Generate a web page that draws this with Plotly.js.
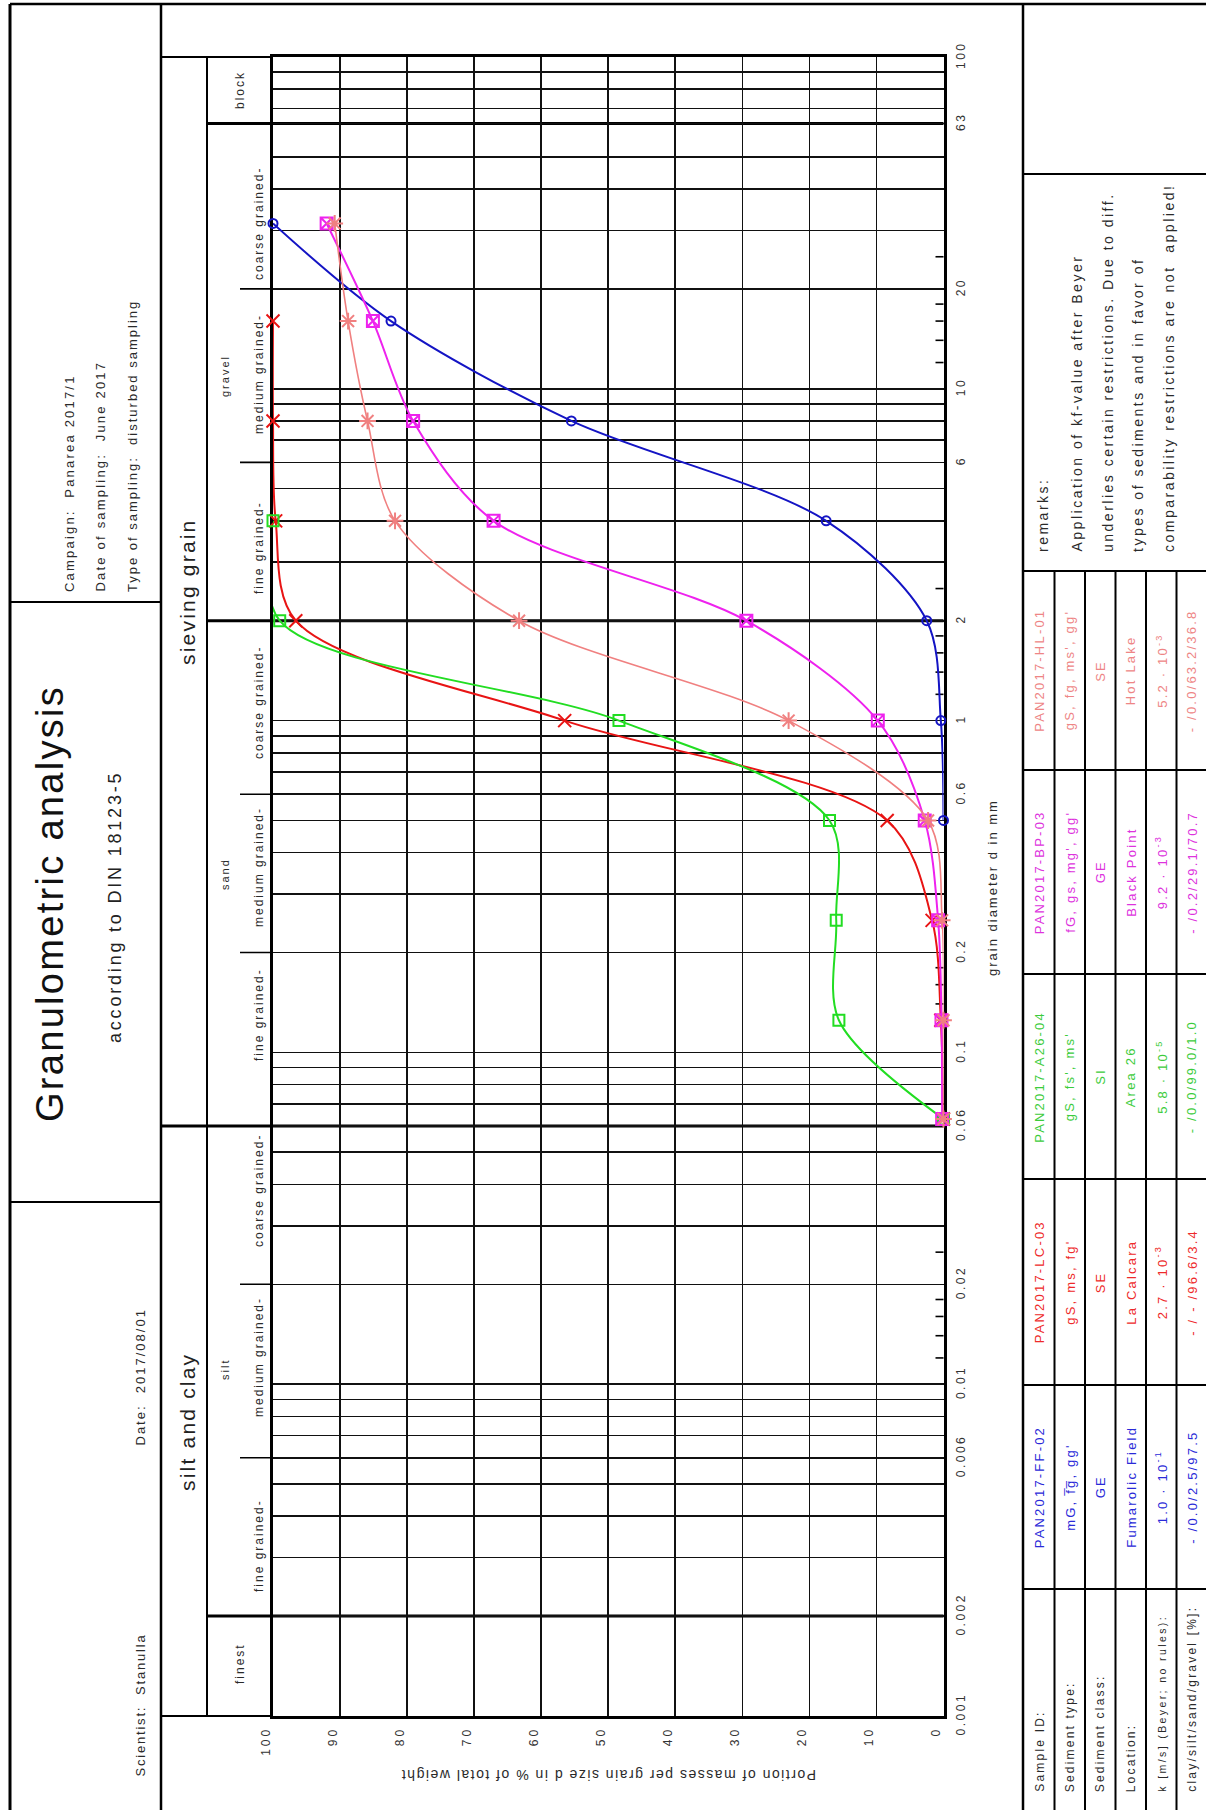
<!DOCTYPE html>
<html>
<head>
<meta charset="utf-8">
<script src="https://cdn.plot.ly/plotly-3.0.1.min.js"></script>
<style>
html,body{margin:0;padding:0;background:#fff;}
#chart{width:1206px;height:1810px;}
.xtick text{letter-spacing:3px;}
.ytick text{letter-spacing:2.5px;}
</style>
</head>
<body>
<div id="chart"></div>
<script>
// ---------------- data ----------------
const sampleIds   = ['PAN2017-FF-02','PAN2017-LC-03','PAN2017-A26-04','PAN2017-BP-03','PAN2017-HL-01'];
const sedTypes    = ["mG, f\u0305g\u0305, gg'", "gS, ms, fg'", "gS, fs', ms'", "fG, gs, mg', gg'", "gS, fg, ms', gg'"];
const sedClasses  = ['GE','SE','SI','GE','SE'];
const locations   = ['Fumarolic Field','La Calcara','Area 26','Black Point','Hot Lake'];
const kValues     = ['1.0 \u00b7 10<sup>-1</sup>','2.7 \u00b7 10<sup>-3</sup>','5.8 \u00b7 10<sup>-5</sup>','9.2 \u00b7 10<sup>-3</sup>','5.2 \u00b7 10<sup>-3</sup>'];
const fractions   = ['- /0.0/2.5/97.5','- / - /96.6/3.4','- /0.0/99.0/1.0','- /0.2/29.1/70.7','- /0.0/63.2/36.8'];
const sampleColors= ['#2a2ad8','#ee2a2a','#3ccc3c','#dd33dd','#ee8585'];
const lineColors  = ['#1414c4','#e81414','#22dd22','#ee22ee','#f08080'];
const markerSymbols = ['circle-open','x-thin-open','square-open','square-x-open','asterisk-open'];
const markerSizes = [9,13,11,12,14];
const lineWidths  = [2,2,2,2,1.6];

const rowLabels = ['Sample ID:','Sediment type:','Sediment class:','Location:','k [m/s] (Beyer; no rules):','clay/silt/sand/gravel [%]:'];

// sieve diameters (mm) and percent passing
const sieveFF  = [31.5, 16, 8, 4, 2, 1, 0.5];
const passFF   = [100, 82.4, 55.5, 17.5, 2.5, 0.4, 0];
const sieveLC  = [16, 8, 4, 2, 1, 0.5, 0.25, 0.125, 0.063];
const passLC   = [100, 100, 99.6, 96.6, 56.5, 8.4, 1.7, 0.4, 0];
const sieveA26 = [4, 2, 1, 0.5, 0.25, 0.125, 0.063];
const passA26  = [100, 99.0, 48.4, 17.0, 16.0, 15.6, 0];
const sieveBP  = [31.5, 16, 8, 4, 2, 1, 0.5, 0.25, 0.125, 0.063];
const passBP   = [92.0, 85.1, 79.1, 67.1, 29.4, 9.8, 2.8, 0.8, 0.3, 0.2];
const sieveHL  = [31.5, 16, 8, 4, 2, 1, 0.5, 0.25, 0.125, 0.063];
const passHL   = [90.8, 88.8, 85.9, 81.8, 63.3, 23.1, 2.3, 0.2, 0, 0];

const pctTicks    = [0,10,20,30,40,50,60,70,80,90,100];
const diamTicks   = [0.001,0.002,0.006,0.01,0.02,0.06,0.1,0.2,0.6,1,2,6,10,20,63,100];
const diamLabels  = ['0.001','0.002','0.006','0.01','0.02','0.06','0.1','0.2','0.6','1','2','6','10','20','63','100'];
const diamMinor   = [0.003,0.004,0.005,0.007,0.008,0.009,0.03,0.04,0.05,0.07,0.08,0.09,
                     0.3,0.4,0.5,0.7,0.8,0.9,3,4,5,7,8,9,30,40,50,70,80,90];
const sieveMarks  = [0.012,0.014,0.016,0.018,0.025,0.12,0.14,0.16,0.18,0.25,1.2,1.4,1.6,1.8,2.5,12,14,16,18,25];
const mainBounds  = [63, 2, 0.06, 0.002];
const subBounds   = [20, 6, 0.6, 0.2, 0.02, 0.006];

const groupLabels = ['gravel','sand','silt'];
const subLabels   = ['coarse grained-','medium grained-','fine grained-','coarse grained-','medium grained-','fine grained-','coarse grained-','medium grained-','fine grained-'];
const remarks     = ['remarks:','Application of kf-value after Beyer','underlies certain restrictions. Due to diff.','types of sediments and in favor of','comparability restrictions are not\u00a0 applied!'];

// ---------------- geometry (page pixels) ----------------
const W = 1206, H = 1810;
const X0 = 273, X1 = 943.5, Y0 = 57, Y1 = 1716;
const px = x => x / W;
const py = y => 1 - y / H;
const FONT = 'Liberation Sans, Arial, Helvetica, sans-serif';

function txt(text, x, y, o) {
  o = o || {};
  const t = o.ls ? '<span style="letter-spacing:' + o.ls + 'px">' + text + '</span>' : text;
  return {
    text: t, x: px(x), y: py(y), xref: 'paper', yref: 'paper',
    textangle: (o.angle === undefined ? -90 : o.angle), showarrow: false,
    xanchor: o.xa || 'center', yanchor: o.ya || 'middle', borderpad: 0,
    font: {family: FONT, size: o.size || 13, color: o.color || '#2a2a2a'}
  };
}
function seg(x0, y0, x1, y1, w) {
  return {type: 'line', xref: 'paper', yref: 'paper', x0: px(x0), y0: py(y0), x1: px(x1), y1: py(y1),
          line: {color: '#000', width: w || 2}, layer: 'above'};
}
function yseg(val, x0, x1, w) {
  return {type: 'line', xref: 'paper', yref: 'y', x0: px(x0), x1: px(x1), y0: val, y1: val,
          line: {color: '#000', width: w || 2}, layer: 'below'};
}

// ---------------- traces ----------------
const sieves = [sieveFF, sieveLC, sieveA26, sieveBP, sieveHL];
const passes = [passFF, passLC, passA26, passBP, passHL];
const traces = sieves.map((s, i) => ({
  type: 'scatter', mode: 'lines+markers', x: passes[i], y: s, name: sampleIds[i],
  line: {color: lineColors[i], width: lineWidths[i], shape: 'spline', smoothing: 0.9},
  marker: {symbol: markerSymbols[i], size: markerSizes[i], color: lineColors[i], line: {color: lineColors[i], width: 2}},
  cliponaxis: false, hoverinfo: 'skip'
}));

// ---------------- shapes ----------------
const shapes = [];
shapes.push(seg(10, 4, 1206, 4, 2.5));
shapes.push(seg(10, 4, 10, 1810, 3));
shapes.push(seg(161, 4, 161, 1810, 2.5));
shapes.push(seg(1023, 4, 1023, 1810, 2.5));
shapes.push(seg(10, 602, 161, 602, 2));
shapes.push(seg(10, 1202, 161, 1202, 2));
shapes.push(seg(161, Y0, X0, Y0, 2));
shapes.push(seg(207, Y0, 207, Y1, 2));
shapes.push(seg(161, Y1, X0, Y1, 2));
mainBounds.forEach(v => shapes.push(yseg(v, v === 0.06 ? 161 : 207, X1, 3)));
subBounds.forEach(v => shapes.push(yseg(v, 240, X0, 1.6)));
sieveMarks.forEach(v => shapes.push(yseg(v, X1 - 8, X1, 1.6)));
const tableRows = [1024, 1054.5, 1085, 1115.5, 1146, 1176.5];
const bandEdges = [1589, 1385, 1179, 974, 770, 571];
shapes.push(seg(1023, 174, 1206, 174, 2));
bandEdges.forEach(y => shapes.push(seg(1023, y, 1206, y, 2)));
tableRows.slice(1).forEach(x => shapes.push(seg(x, 571, x, 1810, 2)));

// ---------------- annotations ----------------
const ann = [];
ann.push(txt('Campaign:\u00a0 Panarea 2017/1', 69, 593, {ya: 'bottom', ls: 2.2}));
ann.push(txt('Date of sampling:\u00a0 June 2017', 100, 593, {ya: 'bottom', ls: 2.2}));
ann.push(txt('Type of sampling:\u00a0 disturbed sampling', 132, 593, {ya: 'bottom', ls: 2.0}));
ann.push(txt('Granulometric analysis', 50, 904, {size: 38, ls: 2.3, color: '#111'}));
ann.push(txt('according to DIN 18123-5', 115, 907, {size: 18, ls: 2.8, color: '#222'}));
ann.push(txt('Date:\u00a0 2017/08/01', 140, 1447, {ya: 'bottom', ls: 2.0}));
ann.push(txt('Scientist:\u00a0 Stanulla', 140, 1778, {ya: 'bottom', ls: 1.8}));

ann.push(txt('sieving grain', 187, 591, {size: 21, ls: 2.2, color: '#222'}));
ann.push(txt('silt and clay', 187, 1422, {size: 21, ls: 2.2, color: '#222'}));
ann.push(txt('block', 240, 90, {size: 12, ls: 2}));
const groupY = [376, 874, 1370];
groupLabels.forEach((g, i) => ann.push(txt(g, 225, groupY[i], {size: 11, ls: 2})));
const subY = [224, 374, 548, 703, 867, 1015, 1191, 1357, 1546];
subLabels.forEach((s, i) => ann.push(txt(s, 259, subY[i], {size: 12, ls: 2})));
ann.push(txt('finest', 240, 1664, {size: 12, ls: 2}));

ann.push(txt('grain diameter d in mm', 993, 888, {size: 13, ls: 2}));
ann.push(txt('Portion of masses per grain size d in % of total weight', 608, 1775, {angle: 180, size: 14, ls: 1.5}));

const rowCx = tableRows.map(x => x + 15.25);
rowLabels.forEach((r, j) => ann.push(txt(r, rowCx[j], 1793, {ya: 'bottom', size: j === 4 ? 10.5 : 12, ls: j === 4 ? 2.4 : 2.2})));
const cols = [sampleIds, sedTypes, sedClasses, locations, kValues, fractions];
sampleIds.forEach((id, i) => {
  const cy = (bandEdges[i] + bandEdges[i + 1]) / 2;
  cols.forEach((c, j) => ann.push(txt(c[i], rowCx[j], cy, {size: 13, ls: 2.2, color: sampleColors[i]})));
});
const remX = [1043, 1077, 1108, 1138, 1169];
remarks.forEach((r, i) => ann.push(txt(r, remX[i], 553, {ya: 'bottom', size: 14, ls: 2.5})));

// ---------------- layout ----------------
const axisCommon = {
  ticks: '', showgrid: true, gridcolor: '#111', gridwidth: 1.6, zeroline: false,
  showline: true, mirror: true, linecolor: '#000', linewidth: 3,
  tickfont: {family: FONT, size: 12, color: '#333'}, layer: 'below traces', fixedrange: true
};
const layout = {
  width: W, height: H, margin: {l: 0, r: 0, t: 0, b: 0},
  paper_bgcolor: '#fff', plot_bgcolor: '#fff', showlegend: false,
  font: {family: FONT, color: '#333'},
  xaxis: Object.assign({}, axisCommon, {
    domain: [px(X0), px(X1)], range: [100, 0], tickmode: 'array',
    tickvals: pctTicks, ticktext: pctTicks.map(String), tickangle: -90,
    ticklabelstandoff: 3, ticklabelshift: 7
  }),
  yaxis: Object.assign({}, axisCommon, {
    domain: [py(Y1), py(Y0)], type: 'log', range: [-3, 2], side: 'right', tickmode: 'array',
    tickvals: diamTicks, ticktext: diamLabels, tickangle: -90, ticklabelstandoff: 4,
    minor: {tickmode: 'array', tickvals: diamMinor, showgrid: true, gridcolor: '#111', gridwidth: 1.6, ticks: ''}
  }),
  shapes: shapes,
  annotations: ann
};

Plotly.newPlot('chart', traces, layout, {staticPlot: true, displayModeBar: false});
</script>
</body>
</html>
